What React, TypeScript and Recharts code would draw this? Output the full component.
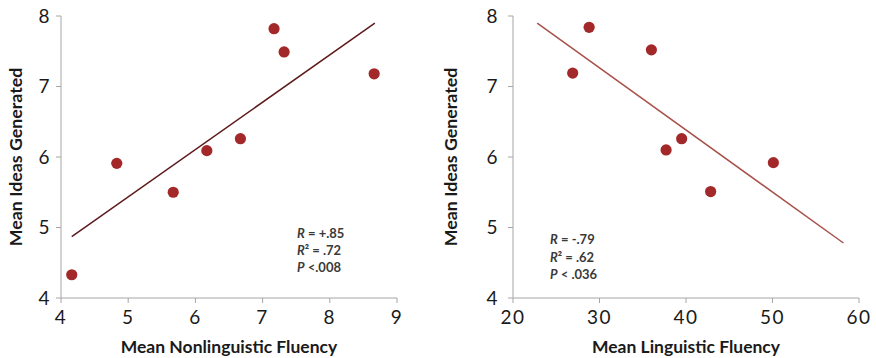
import React from "react";
import { ScatterChart, Scatter, XAxis, YAxis, ReferenceLine, Label, Customized } from "recharts";

const leftPoints = [
  { x: 4.16, y: 4.33 },
  { x: 4.83, y: 5.91 },
  { x: 5.67, y: 5.5 },
  { x: 6.17, y: 6.09 },
  { x: 6.67, y: 6.26 },
  { x: 7.17, y: 7.82 },
  { x: 7.32, y: 7.49 },
  { x: 8.66, y: 7.18 },
];
const leftTrend = [
  { x: 4.16, y: 4.87 },
  { x: 8.67, y: 7.9 },
];
const leftXTicks = [4, 5, 6, 7, 8, 9];
const leftStats = ["R = +.85", "R² = .72", "P <.008"];

const rightPoints = [
  { x: 26.9, y: 7.19 },
  { x: 28.8, y: 7.84 },
  { x: 36.0, y: 7.52 },
  { x: 37.7, y: 6.1 },
  { x: 39.5, y: 6.26 },
  { x: 42.85, y: 5.51 },
  { x: 50.1, y: 5.92 },
];
const rightTrend = [
  { x: 22.8, y: 7.9 },
  { x: 58.2, y: 4.78 },
];
const rightXTicks = [20, 30, 40, 50, 60];
const rightStats = ["R = -.79", "R² = .62", "P < .036"];

const yTicks = [4, 5, 6, 7, 8];

const FONT = "Lato, 'Open Sans', sans-serif";
const AXIS = "#a6a6a6";
const DOT = "#a3282a";
const TICK_STYLE = { fill: "#1a1a1a", fontSize: 19, fontFamily: FONT, letterSpacing: 1.5 };

const Dot = (props: any) => {
  const { cx, cy } = props;
  return <circle cx={cx} cy={cy} r={5.6} fill={DOT} />;
};

const YTitle = (offsetX: number) => (p: any) => {
  const vb = p.viewBox || {};
  const cx = (vb.x || 0) + offsetX;
  const cy = (vb.y || 0) + (vb.height || 0) / 2;
  return (
    <text
      x={cx}
      y={cy}
      transform={`rotate(-90 ${cx} ${cy})`}
      textAnchor="middle"
      dominantBaseline="central"
      fontFamily={FONT}
      fontWeight={700}
      fontSize={17.8}
      fill="#1a1a1a"
    >
      Mean Ideas Generated
    </text>
  );
};

const Stats = (lines: string[], x: number, ys: number[]) => () => (
  <g fontFamily={FONT} fontSize={13} fontWeight={700} fill="#3a3a3a">
    {lines.map((l, i) => {
      const first = l.charAt(0);
      const rest = l.slice(1);
      return (
        <text key={i} x={x} y={ys[i]} dominantBaseline="central">
          <tspan fontStyle="italic">{first}</tspan>
          <tspan>{rest}</tspan>
        </text>
      );
    })}
  </g>
);

interface PanelProps {
  width: number;
  yAxisWidth: number;
  marginRight: number;
  domain: [number, number];
  xTicks: number[];
  points: { x: number; y: number }[];
  trend: { x: number; y: number }[];
  lineColor: string;
  xTitle: string;
  yTitleX: number;
  tickMarginY: number;
  stats: () => React.ReactElement;
}

const Panel = (p: PanelProps) => (
  <ScatterChart
    width={p.width}
    height={358}
    margin={{ top: 16, right: p.marginRight, bottom: 0, left: 0 }}
  >
    <XAxis
      type="number"
      dataKey="x"
      domain={p.domain}
      ticks={p.xTicks}
      allowDataOverflow
      height={60}
      stroke={AXIS}
      tickSize={5}
      tickMargin={8}
      tick={TICK_STYLE}
      tickLine={{ stroke: AXIS }}
    >
      <Label
        value={p.xTitle}
        position="insideBottom"
        offset={5}
        style={{ fontFamily: FONT, fontWeight: 700, fontSize: 17.5, fill: "#1a1a1a" }}
      />
    </XAxis>
    <YAxis
      type="number"
      dataKey="y"
      domain={[4, 8]}
      ticks={yTicks}
      width={p.yAxisWidth}
      stroke={AXIS}
      tickSize={5}
      tickMargin={p.tickMarginY}
      tick={TICK_STYLE}
      tickLine={{ stroke: AXIS }}
    >
      <Label content={YTitle(p.yTitleX) as any} />
    </YAxis>
    <ReferenceLine
      segment={p.trend}
      stroke={p.lineColor}
      strokeWidth={1.5}
      ifOverflow="visible"
    />
    <Scatter data={p.points} shape={Dot} isAnimationActive={false} />
    <Customized component={p.stats} />
  </ScatterChart>
);

export default function App() {
  return (
    <div style={{ position: "absolute", left: 0, top: 0, width: 876, height: 358, background: "#fff", display: "flex" }}>
      <Panel
        width={440}
        yAxisWidth={61}
        marginRight={43}
        domain={[4, 9]}
        xTicks={leftXTicks}
        points={leftPoints}
        trend={leftTrend}
        lineColor="#5e1a1a"
        xTitle="Mean Nonlinguistic Fluency"
        yTitleX={15}
        tickMarginY={5}
        stats={Stats(leftStats, 297, [233, 250, 267])}
      />
      <Panel
        width={436}
        yAxisWidth={73}
        marginRight={17}
        domain={[20, 60]}
        xTicks={rightXTicks}
        points={rightPoints}
        trend={rightTrend}
        lineColor="#a8524c"
        xTitle="Mean Linguistic Fluency"
        yTitleX={10}
        tickMarginY={9}
        stats={Stats(rightStats, 110, [239, 257, 274])}
      />
    </div>
  );
}
